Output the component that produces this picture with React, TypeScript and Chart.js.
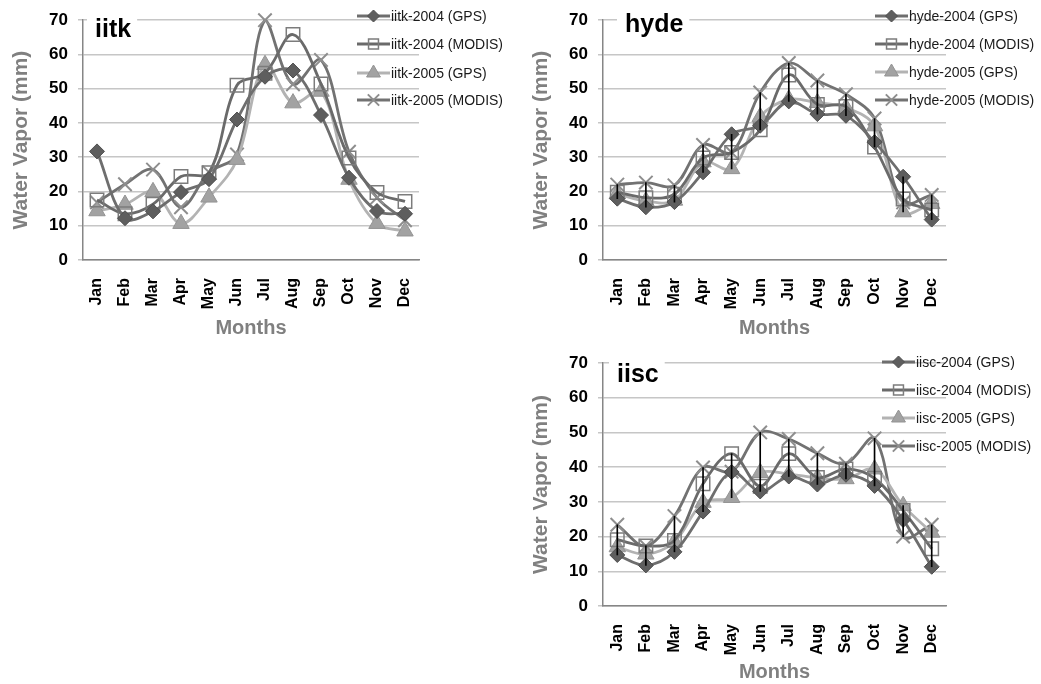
import React, { useEffect, useRef } from 'react';
import Chart from 'chart.js/auto';
import { drawPoint } from 'chart.js/helpers';

const FONT = '"Liberation Sans", Arial, Helvetica, sans-serif';

// ---------- data ----------
const months = ['Jan', 'Feb', 'Mar', 'Apr', 'May', 'Jun', 'Jul', 'Aug', 'Sep', 'Oct', 'Nov', 'Dec'];
const yTickValues = [0, 10, 20, 30, 40, 50, 60, 70];
const seriesSuffixes = ['-2004 (GPS)', '-2004 (MODIS)', '-2005 (GPS)', '-2005 (MODIS)'];

const iitkGps2004 = [31.7, 12.2, 14.2, 19.8, 23.6, 41.0, 53.5, 55.3, 42.3, 24.0, 14.3, 13.5];
const iitkModis2004 = [17.5, 13.5, 16.3, 24.4, 25.5, 51.0, 54.5, 65.8, 51.4, 29.8, 19.7, 17.1];
const iitkGps2005 = [14.3, 16.2, 19.9, 10.6, 18.3, 29.3, 57.0, 45.8, 49.2, 23.5, 10.6, 8.4];
const iitkModis2005 = [16.8, 22.1, 26.4, 15.4, 25.6, 30.8, 70.0, 51.3, 58.4, 31.6, 18.2, 11.6];

const hydeGps2004 = [17.9, 15.4, 16.9, 25.6, 36.7, 39.2, 46.3, 42.6, 42.1, 34.4, 24.3, 11.8];
const hydeModis2004 = [19.8, 18.2, 19.2, 29.8, 31.4, 38.0, 54.0, 45.4, 44.8, 33.0, 17.8, 14.6];
const hydeGps2005 = [19.3, 17.2, 17.4, 28.6, 26.6, 41.8, 46.9, 45.9, 44.5, 39.1, 14.0, 16.4];
const hydeModis2005 = [22.0, 22.6, 21.8, 33.6, 31.4, 48.9, 57.5, 52.4, 48.4, 41.3, 16.8, 19.0];

const iiscGps2004 = [14.7, 11.7, 15.6, 27.2, 38.6, 33.0, 37.3, 35.0, 37.8, 34.6, 24.8, 11.3];
const iiscModis2004 = [19.1, 17.3, 18.9, 35.2, 43.9, 34.5, 43.9, 37.0, 39.5, 36.8, 27.5, 16.5];
const iiscGps2005 = [17.0, 14.9, 18.5, 29.8, 31.2, 38.4, 38.0, 36.9, 36.6, 39.4, 28.9, 21.2];
const iiscModis2005 = [23.4, 17.3, 25.9, 39.9, 38.7, 50.0, 48.1, 44.0, 41.0, 48.3, 20.0, 23.4];

// ---------- styles ----------
const STYLES = [
  { line: '#6e6e6e', point: 'rectRot', radius: 7.5, legendRadius: 6, fill: '#5e5e5e', border: '#4f4f4f', bw: 1, legendFill: '#5e5e5e' },
  { line: '#6a6a6a', point: 'rect', radius: 9.5, legendRadius: 7, fill: 'rgba(255,255,255,0)', border: '#7c7c7c', bw: 1.5, legendFill: 'rgba(255,255,255,0)' },
  { line: '#b3b3b3', point: 'triangle', radius: 9.5, legendRadius: 8, fill: '#a2a2a2', border: '#939393', bw: 1, legendFill: '#a2a2a2' },
  { line: '#727272', point: 'crossRot', radius: 9.5, legendRadius: 8, fill: '#8e8e8e', border: '#8e8e8e', bw: 2, legendFill: '#8e8e8e' },
];

type Panel = {
  site: string;
  series: number[][];
  hiLo: boolean;
  box: { left: number; top: number; width: number; height: number };
  area: { left: number; right: number; top: number; bottom: number };
  title: { x: number; y: number };
  legend: { x: number; ys: number[] };
};

const PANELS: Panel[] = [
  {
    site: 'iitk',
    series: [iitkGps2004, iitkModis2004, iitkGps2005, iitkModis2005],
    hiLo: false,
    box: { left: 0, top: 0, width: 520, height: 340 },
    area: { left: 83, right: 419, top: 17, bottom: 260 },
    title: { x: 95, y: 37 },
    legend: { x: 357, ys: [16, 44, 73, 100] },
  },
  {
    site: 'hyde',
    series: [hydeGps2004, hydeModis2004, hydeGps2005, hydeModis2005],
    hiLo: true,
    box: { left: 520, top: 0, width: 521, height: 340 },
    area: { left: 83, right: 426, top: 18, bottom: 260 },
    title: { x: 105, y: 32 },
    legend: { x: 355, ys: [16, 44, 72, 100] },
  },
  {
    site: 'iisc',
    series: [iiscGps2004, iiscModis2004, iiscGps2005, iiscModis2005],
    hiLo: true,
    box: { left: 520, top: 340, width: 521, height: 344 },
    area: { left: 83, right: 426, top: 23, bottom: 266 },
    title: { x: 97, y: 42 },
    legend: { x: 362, ys: [22, 50, 78, 106] },
  },
];

function ChartPanel({ p }: { p: Panel }) {
  const ref = useRef<HTMLCanvasElement | null>(null);

  useEffect(() => {
    if (!ref.current) return;
    const labels = seriesSuffixes.map((s) => p.site + s);

    const lineSets: any[] = p.series.map((data, i) => {
      const st = STYLES[i];
      return {
        type: 'line',
        label: labels[i],
        data,
        borderColor: st.line,
        borderWidth: 2.8,
        tension: 0.35,
        fill: false,
        pointStyle: st.point,
        pointRadius: st.radius,
        pointBackgroundColor: st.fill,
        pointBorderColor: st.border,
        pointBorderWidth: st.bw,
        clip: false,
        order: i + 1,
      };
    });

    const datasets: any[] = [...lineSets];
    if (p.hiLo) {
      datasets.push({
        type: 'bar',
        label: 'range',
        data: months.map((_, j) => {
          const vals = p.series.map((s) => s[j]);
          return [Math.min(...vals), Math.max(...vals)];
        }),
        backgroundColor: '#000000',
        borderWidth: 0,
        barThickness: 1,
        order: 0,
      });
    }

    const titlePlugin = {
      id: 'boxTitle',
      beforeDatasetsDraw(chart: any) {
        const ctx = chart.ctx;
        ctx.save();
        ctx.font = `bold 25px ${FONT}`;
        const w = ctx.measureText(p.site).width;
        ctx.fillStyle = '#ffffff';
        ctx.fillRect(p.title.x - 8, p.area.top - 5, w + 14, 10);
        ctx.fillStyle = '#000000';
        ctx.textAlign = 'left';
        ctx.textBaseline = 'alphabetic';
        ctx.fillText(p.site, p.title.x, p.title.y);
        ctx.restore();
      },
    };

    const legendPlugin = {
      id: 'customLegend',
      afterDraw(chart: any) {
        const ctx = chart.ctx;
        STYLES.forEach((st, i) => {
          const y = p.legend.ys[i];
          const x0 = p.legend.x;
          const x1 = x0 + 33;
          ctx.save();
          ctx.strokeStyle = st.line;
          ctx.lineWidth = 2.8;
          ctx.beginPath();
          ctx.moveTo(x0, y);
          ctx.lineTo(x1, y);
          ctx.stroke();
          ctx.fillStyle = st.legendFill;
          ctx.strokeStyle = st.border;
          ctx.lineWidth = st.bw;
          drawPoint(ctx, { pointStyle: st.point, radius: st.legendRadius, borderWidth: st.bw, rotation: 0 } as any, (x0 + x1) / 2, y);
          ctx.fillStyle = '#1a1a1a';
          ctx.font = `14px ${FONT}`;
          ctx.textAlign = 'left';
          ctx.textBaseline = 'middle';
          ctx.fillText(labels[i], x1 + 1, y + 1);
          ctx.restore();
        });
      },
    };

    const chart = new Chart(ref.current, {
      type: 'line',
      data: { labels: months, datasets },
      options: {
        responsive: false,
        animation: false,
        events: [],
        layout: {
          padding: {
            left: 0,
            top: p.area.top,
            right: p.box.width - p.area.right,
            bottom: 0,
          },
        },
        plugins: {
          legend: { display: false },
          tooltip: { enabled: false },
          title: { display: false },
        },
        scales: {
          x: {
            type: 'category',
            offset: true,
            grid: { display: false, drawTicks: false },
            border: { display: true, color: '#868686', width: 1.5 },
            ticks: {
              minRotation: 90,
              maxRotation: 90,
              autoSkip: false,
              padding: 18,
              color: '#000000',
              font: { family: FONT, size: 16, weight: 'bold' },
            },
            title: {
              display: true,
              text: 'Months',
              color: '#808080',
              font: { family: FONT, size: 20, weight: 'bold' },
              padding: { top: 0, bottom: 0 },
            },
            afterFit: (s: any) => {
              s.height = p.box.height - p.area.bottom;
            },
          },
          y: {
            type: 'linear',
            min: 0,
            max: 70,
            afterBuildTicks: (s: any) => {
              s.ticks = yTickValues.map((v) => ({ value: v }));
            },
            grid: { color: '#c6c6c6', lineWidth: 1.5, drawTicks: true, tickLength: 5 },
            border: { display: true, color: '#868686', width: 1.5 },
            ticks: {
              padding: 10,
              color: '#000000',
              font: { family: FONT, size: 17, weight: 'bold' },
            },
            title: {
              display: true,
              text: 'Water Vapor (mm)',
              color: '#808080',
              font: { family: FONT, size: 21, weight: 'bold' },
              padding: { top: 9, bottom: 0 },
            },
            afterFit: (s: any) => {
              s.width = p.area.left;
            },
          },
        },
      } as any,
      plugins: [titlePlugin, legendPlugin],
    } as any);

    return () => chart.destroy();
  }, [p]);

  return (
    <div
      style={{
        position: 'absolute',
        left: p.box.left,
        top: p.box.top,
        width: p.box.width,
        height: p.box.height,
      }}
    >
      <canvas
        ref={ref}
        width={p.box.width}
        height={p.box.height}
        style={{ display: 'block', width: p.box.width, height: p.box.height }}
      />
    </div>
  );
}

export default function App() {
  return (
    <div style={{ position: 'absolute', left: 0, top: 0, width: 1041, height: 684, background: '#ffffff' }}>
      {PANELS.map((p) => (
        <ChartPanel key={p.site} p={p} />
      ))}
    </div>
  );
}
